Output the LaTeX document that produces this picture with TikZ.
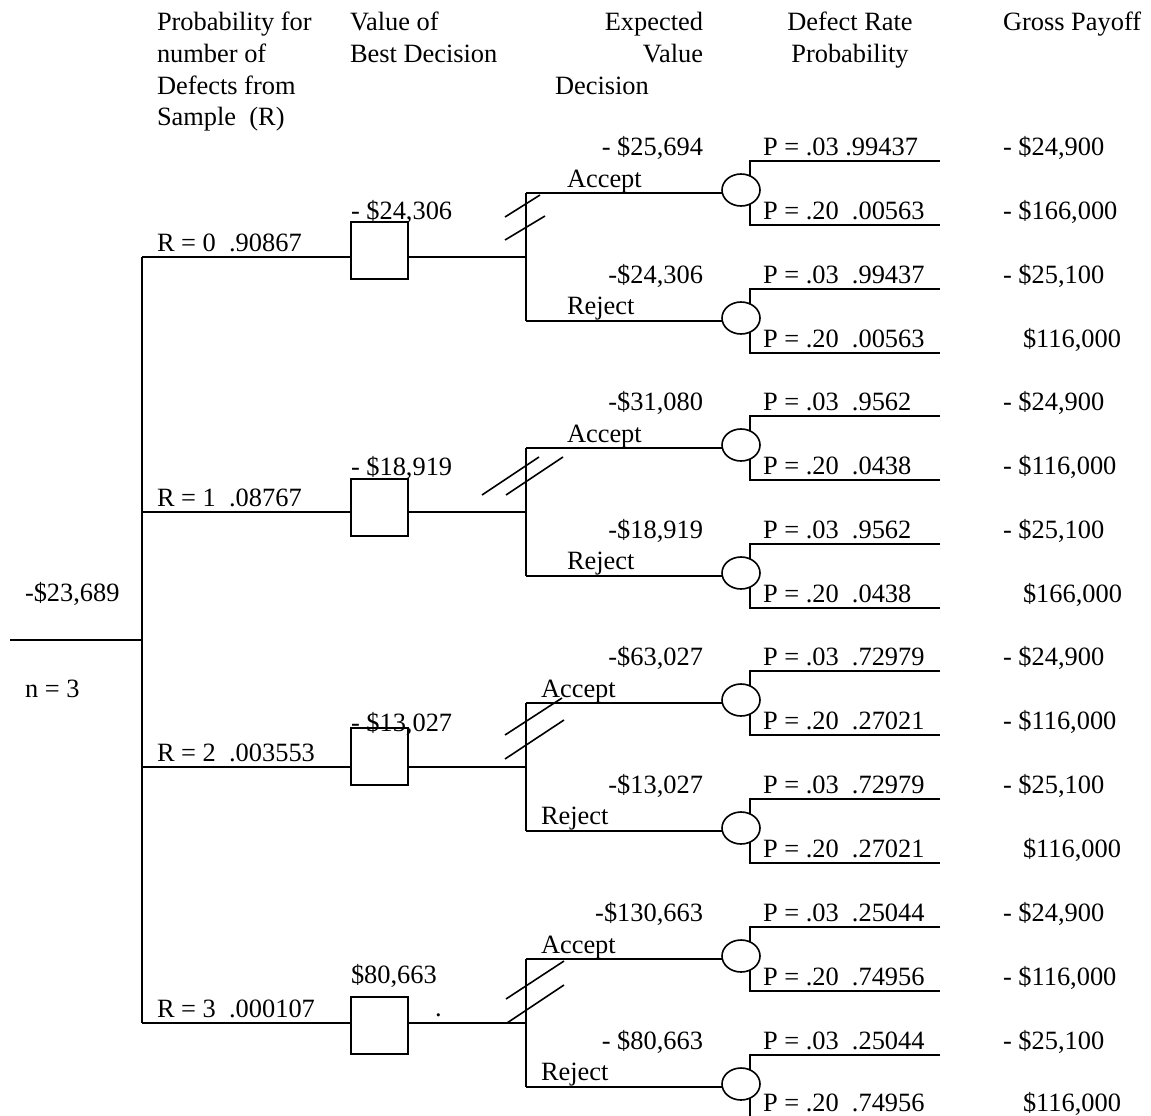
\documentclass[tikz,border=0pt]{standalone}
\usepackage{fontspec}
\setmainfont{Liberation Serif}
\usetikzlibrary{shapes.geometric}
\begin{document}
\begin{tikzpicture}[x=1pt,y=-1pt,
  every node/.style={inner sep=0pt, outer sep=0pt, font=\fontsize{26.4}{31}\selectfont},
  ln/.style={line width=1.6pt},
  lbl/.style={anchor=base west},
  lblr/.style={anchor=base east},
  lblc/.style={anchor=base},
  dbox/.style={draw, line width=1.6pt, minimum width=57pt, minimum height=57pt, anchor=north west},
  chance/.style={draw, ellipse, line width=1.6pt, minimum width=38pt, minimum height=32pt, fill=white}]
\useasboundingbox (0,0) rectangle (1151,1116);

% headers
\node[lbl] (h1a) at (157,31) {Probability for};
\node[lbl] (h1b) at (157,62.5) {number of};
\node[lbl] (h1c) at (157,94) {Defects from};
\node[lbl] (h1d) at (157,125.5) {Sample\ \ (R)};
\node[lbl] (h2a) at (350,31) {Value of};
\node[lbl] (h2b) at (350,62.5) {Best Decision};
\node[lblr] (h3a) at (703,31) {Expected};
\node[lblr] (h3b) at (703,62.5) {Value};
\node[lbl] (h3c) at (555,94) {Decision};
\node[lblc] (h4a) at (850,31) {Defect Rate};
\node[lblc] (h4b) at (850,62.5) {Probability};
\node[lbl] (h5a) at (1003,31) {Gross Payoff};

% root
\coordinate (root) at (10,640);
\coordinate (rootj) at (142,640);
\draw[ln] (root) -- (rootj);
\node[lbl] (rootv) at (25,601) {-\$23,689};
\node[lbl] (rootn) at (25,697) {n = 3};

% structure of the four blocks
\foreach \k/\B/\T in {0/257/222, 1/512/479, 2/767/728, 3/1023/997}{
  \coordinate (r\k) at (142,\B);
  \node[dbox] (d\k) at (351,\T) {};
  \coordinate (j\k) at (526,\B);
  \coordinate (a\k) at (526,\B-64);
  \coordinate (b\k) at (526,\B+64);
  \draw[ln] (r\k) -- (r\k -| d\k.west);
  \draw[ln] (d\k.east |- j\k) -- (j\k);
  \draw[ln] (a\k) -- (b\k);
  % accept chance node
  \coordinate (eau\k) at (940,\B-96);
  \coordinate (pau\k) at (750,\B-96);
  \coordinate (pal\k) at (750,\B-32);
  \coordinate (eal\k) at (940,\B-32);
  \draw[ln] (eau\k) -- (pau\k) -- (pal\k) -- (eal\k);
  \node[chance] (ca\k) at (741,\B-67) {};
  \draw[ln] (a\k) -- (a\k -| ca\k.west);
  % reject chance node
  \coordinate (ebu\k) at (940,\B+32);
  \coordinate (pbu\k) at (750,\B+32);
  \coordinate (pbl\k) at (750,\B+96);
  \coordinate (ebl\k) at (940,\B+96);
  \draw[ln] (ebu\k) -- (pbu\k) -- (pbl\k) -- (ebl\k);
  \node[chance] (cb\k) at (741,\B+61) {};
  \draw[ln] (b\k) -- (b\k -| cb\k.west);
}
\draw[ln] (r0) -- (r3);

% slash marks on the decision branches
\draw[ln] (505,217) -- (540,195);
\draw[ln] (505,240) -- (545,216);
\draw[ln] (482,495) -- (539,457);
\draw[ln] (506,495) -- (563,457);
\draw[ln] (505,735) -- (562,698);
\draw[ln] (505,759) -- (564,720);
\draw[ln] (506,999) -- (564,961);
\draw[ln] (507,1023) -- (564,985);

% R labels
\node[lbl] (rl0) at (157,251) {R = 0\ \ .90867};
\node[lbl] (rl1) at (157,506) {R = 1\ \ .08767};
\node[lbl] (rl2) at (157,761) {R = 2\ \ .003553};
\node[lbl] (rl3) at (157,1017) {R = 3\ \ .000107};

% best decision values
\node[lbl] (bv0) at (351,219) {- \$24,306};
\node[lbl] (bv1) at (351,475) {- \$18,919};
\node[lbl] (bv2) at (351,731) {- \$13,027};
\node[lbl] (bv3) at (351,983) {\$80,663};
\node[lbl] (dot3) at (435,1016) {.};

% accept / reject labels
\node[lbl] (ac0) at (567,187) {Accept};
\node[lbl] (rj0) at (567,314) {Reject};
\node[lbl] (ac1) at (567,442) {Accept};
\node[lbl] (rj1) at (567,569) {Reject};
\node[lbl] (ac2) at (541,697) {Accept};
\node[lbl] (rj2) at (541,824) {Reject};
\node[lbl] (ac3) at (541,953) {Accept};
\node[lbl] (rj3) at (541,1080) {Reject};

% expected values
\node[lblr] (ev0a) at (703,155) {- \$25,694};
\node[lblr] (ev0r) at (703,283) {-\$24,306};
\node[lblr] (ev1a) at (703,410) {-\$31,080};
\node[lblr] (ev1r) at (703,538) {-\$18,919};
\node[lblr] (ev2a) at (703,665) {-\$63,027};
\node[lblr] (ev2r) at (703,793) {-\$13,027};
\node[lblr] (ev3a) at (703,921) {-\$130,663};
\node[lblr] (ev3r) at (703,1049) {- \$80,663};

% defect rate probabilities
\node[lbl] (p0a) at (763,155) {P = .03 .99437};
\node[lbl] (p0b) at (763,219) {P = .20\ \ .00563};
\node[lbl] (p0c) at (763,283) {P = .03\ \ .99437};
\node[lbl] (p0d) at (763,347) {P = .20\ \ .00563};
\node[lbl] (p1a) at (763,410) {P = .03\ \ .9562};
\node[lbl] (p1b) at (763,474) {P = .20\ \ .0438};
\node[lbl] (p1c) at (763,538) {P = .03\ \ .9562};
\node[lbl] (p1d) at (763,602) {P = .20\ \ .0438};
\node[lbl] (p2a) at (763,665) {P = .03\ \ .72979};
\node[lbl] (p2b) at (763,729) {P = .20\ \ .27021};
\node[lbl] (p2c) at (763,793) {P = .03\ \ .72979};
\node[lbl] (p2d) at (763,857) {P = .20\ \ .27021};
\node[lbl] (p3a) at (763,921) {P = .03\ \ .25044};
\node[lbl] (p3b) at (763,985) {P = .20\ \ .74956};
\node[lbl] (p3c) at (763,1049) {P = .03\ \ .25044};
\node[lbl] (p3d) at (763,1111) {P = .20\ \ .74956};

% gross payoffs
\node[lbl] (g0a) at (1003,155) {- \$24,900};
\node[lbl] (g0b) at (1003,219) {- \$166,000};
\node[lbl] (g0c) at (1003,283) {- \$25,100};
\node[lbl] (g0d) at (1023,347) {\$116,000};
\node[lbl] (g1a) at (1003,410) {- \$24,900};
\node[lbl] (g1b) at (1003,474) {- \$116,000};
\node[lbl] (g1c) at (1003,538) {- \$25,100};
\node[lbl] (g1d) at (1023,602) {\$166,000};
\node[lbl] (g2a) at (1003,665) {- \$24,900};
\node[lbl] (g2b) at (1003,729) {- \$116,000};
\node[lbl] (g2c) at (1003,793) {- \$25,100};
\node[lbl] (g2d) at (1023,857) {\$116,000};
\node[lbl] (g3a) at (1003,921) {- \$24,900};
\node[lbl] (g3b) at (1003,985) {- \$116,000};
\node[lbl] (g3c) at (1003,1049) {- \$25,100};
\node[lbl] (g3d) at (1023,1111) {\$116,000};
\end{tikzpicture}
\end{document}
